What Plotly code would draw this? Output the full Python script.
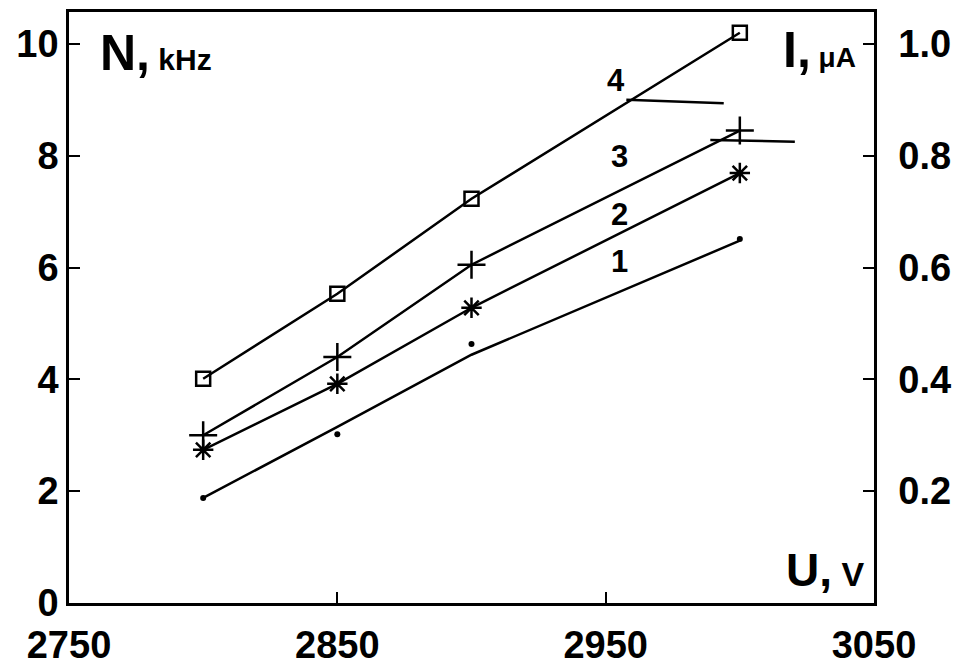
import plotly.graph_objects as go

U = [2800, 2850, 2900, 3000]
N1 = [1.88, 3.02, 4.63, 6.51]
N2 = [2.74, 3.92, 5.28, 7.69]
N3 = [3.00, 4.40, 6.05, 8.45]
N4 = [4.01, 5.53, 7.23, 10.2]
fit1 = [1.88, 3.15, 4.44, 6.48]
x_ticks = [2750, 2850, 2950, 3050]
y_ticks = [0, 2, 4, 6, 8, 10]
i_ticks = [0.2, 0.4, 0.6, 0.8, 1.0]
curve_labels = ["1", "2", "3", "4"]
label_pos_x = [2955, 2955, 2955, 2954]
label_pos_y = [6.1, 6.94, 7.98, 9.35]

FONT = "Liberation Sans, Arial, sans-serif"
fig = go.Figure()

line = dict(color="black", width=2.5)
mline = dict(width=2.5, color="black")
fig.add_trace(go.Scatter(x=U, y=fit1, mode="lines", line=line, showlegend=False))
fig.add_trace(go.Scatter(x=U, y=N1, mode="markers", marker=dict(symbol="circle", size=6, color="black"), showlegend=False))
fig.add_trace(go.Scatter(x=U, y=N2, mode="lines+markers", line=line,
                         marker=dict(symbol="asterisk-open", size=17, color="black", line=mline), showlegend=False))
fig.add_trace(go.Scatter(x=U, y=N3, mode="lines+markers", line=line,
                         marker=dict(symbol="cross-thin-open", size=20, color="black", line=mline), showlegend=False))
fig.add_trace(go.Scatter(x=U, y=N4, mode="lines+markers", line=line,
                         marker=dict(symbol="square-open", size=14, color="black", line=mline), showlegend=False))
fig.add_trace(go.Scatter(x=[U[0]], y=[0.5], yaxis="y2", mode="markers", marker=dict(opacity=0),
                         showlegend=False, hoverinfo="skip"))

fig.add_shape(type="line", x0=2957.7, y0=9.0, x1=2994, y1=8.94, line=dict(color="black", width=2.5))
fig.add_shape(type="line", x0=2989, y0=8.28, x1=3020.5, y1=8.25, line=dict(color="black", width=2.5))

for t, xx, yy in zip(curve_labels, label_pos_x, label_pos_y):
    fig.add_annotation(x=xx, y=yy, text="<b>%s</b>" % t, showarrow=False,
                       font=dict(family=FONT, size=31, color="black"))

fig.add_annotation(xref="paper", yref="paper", x=0.036, y=0.93, xanchor="left", yanchor="middle",
                   text="<b>N,</b><b><span style='font-size:30px'> kHz</span></b>", showarrow=False,
                   font=dict(family=FONT, size=50, color="black"))
fig.add_annotation(xref="paper", yref="paper", x=0.98, y=0.935, xanchor="right", yanchor="middle",
                   text="<b>I,</b><b><span style='font-size:28px'> \u03bcA</span></b>", showarrow=False,
                   font=dict(family=FONT, size=50, color="black"))
fig.add_annotation(xref="paper", yref="paper", x=0.99, y=0.055, xanchor="right", yanchor="middle",
                   text="<b>U,</b><b><span style='font-size:34px'> V</span></b>", showarrow=False,
                   font=dict(family=FONT, size=46, color="black"))

axis_common = dict(showgrid=False, zeroline=False, showline=True, linecolor="black", linewidth=2.5,
                   ticks="inside", ticklen=11, tickwidth=2, tickcolor="black", automargin=False)
fig.update_layout(
    width=960, height=669,
    margin=dict(l=69, r=86, t=12, b=66),
    paper_bgcolor="white", plot_bgcolor="white",
    xaxis=dict(range=[2750, 3050], tickvals=x_ticks, ticktext=["<b>%d</b>" % v for v in x_ticks],
               mirror=True, ticklabelstandoff=7,
               tickfont=dict(family=FONT, size=38, color="black"), **axis_common),
    yaxis=dict(range=[0, 10.57], tickvals=y_ticks, ticktext=["<b>%d</b>" % v for v in y_ticks],
               tickfont=dict(family=FONT, size=38, color="black"), **axis_common),
    yaxis2=dict(range=[0, 1.057], tickvals=i_ticks, ticktext=["<b>%.1f</b>" % v for v in i_ticks],
                overlaying="y", side="right", ticklabelstandoff=14,
                tickfont=dict(family=FONT, size=38, color="black"), **axis_common),
)
fig.write_html("out.html")
